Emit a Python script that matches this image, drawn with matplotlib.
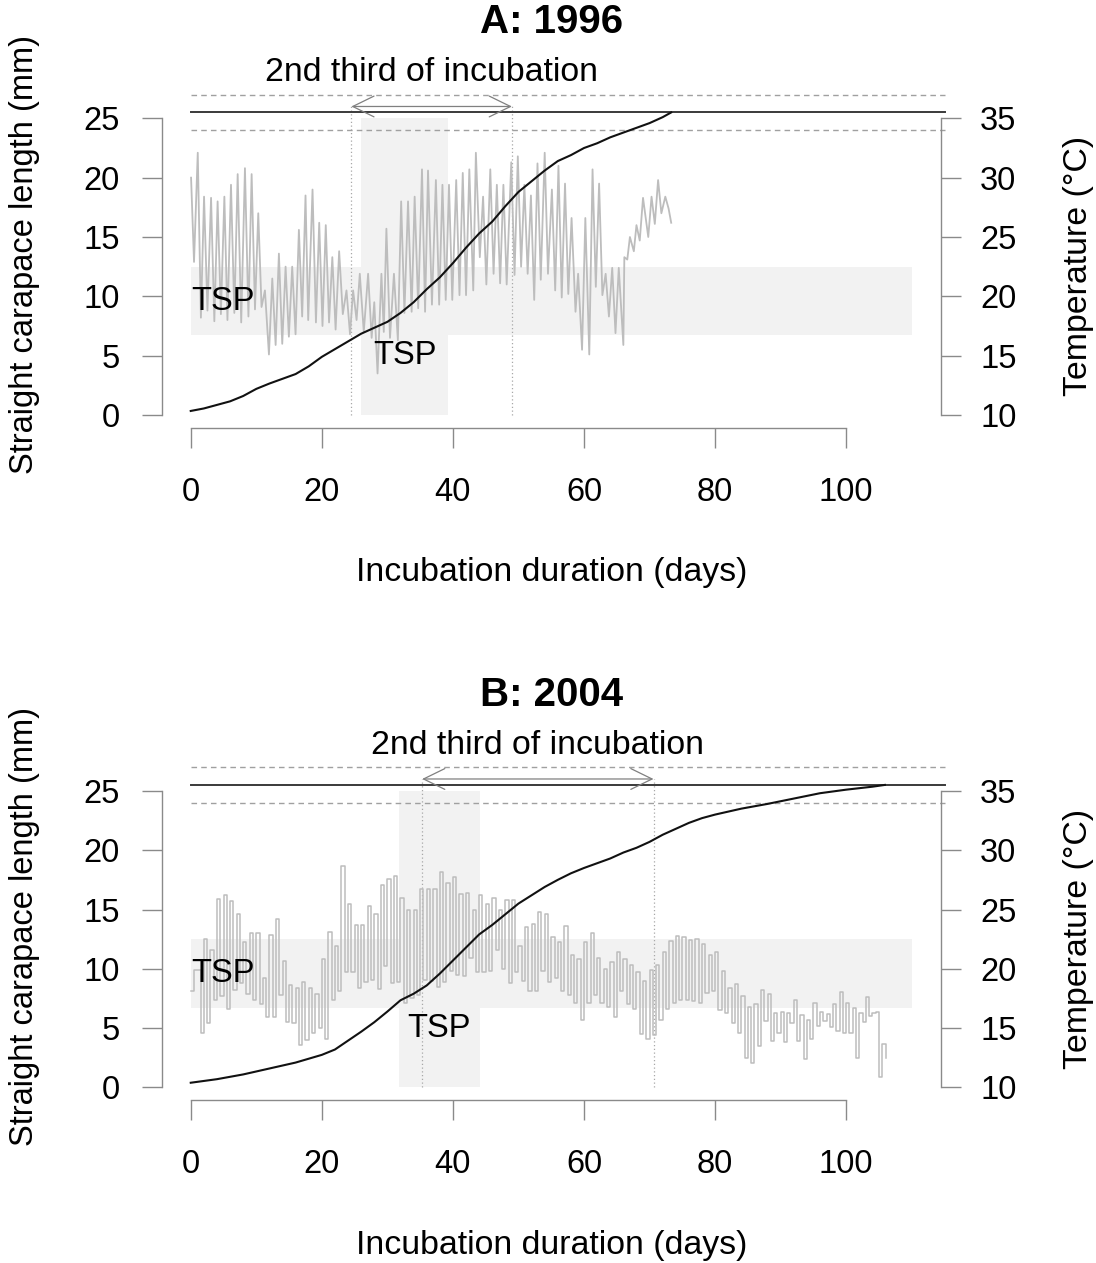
import numpy as np
import matplotlib
matplotlib.use("Agg")
import matplotlib.pyplot as plt
from matplotlib.patches import Rectangle

plt.rcParams['font.family'] = ['Liberation Sans', 'DejaVu Sans']

# ---------------------------------------------------------------- data
x_ticks = [0, 20, 40, 60, 80, 100]
len_ticks = [0, 5, 10, 15, 20, 25]
temp_ticks = [10, 15, 20, 25, 30, 35]
titles = ["A: 1996", "B: 2004"]

# growth curves (day, straight carapace length in mm)
growth_day_A = [0, 2, 4, 6, 8, 10, 12, 14, 16, 18, 20, 22, 24, 26, 28, 30, 32, 34,
                36, 38, 40, 42, 44, 46, 48, 50, 52, 54, 56, 58, 60, 62, 64, 66, 68,
                70, 72, 73.3]
growth_mm_A = [0.34, 0.55, 0.85, 1.15, 1.6, 2.2, 2.65, 3.05, 3.45, 4.1, 4.9, 5.55,
               6.2, 6.85, 7.35, 7.85, 8.6, 9.5, 10.6, 11.6, 12.8, 14.1, 15.3, 16.3,
               17.6, 18.8, 19.7, 20.6, 21.4, 21.9, 22.5, 22.9, 23.4, 23.8, 24.2,
               24.6, 25.1, 25.5]

growth_day_B = [0, 4, 8, 12, 16, 20, 22, 24, 26, 28, 30, 32, 34, 36, 38, 40, 42, 44,
                46, 48, 50, 52, 54, 56, 58, 60, 62, 64, 66, 68, 70, 72, 74, 76, 78,
                80, 84, 88, 92, 96, 100, 104, 105.9]
growth_mm_B = [0.4, 0.7, 1.1, 1.6, 2.1, 2.75, 3.2, 3.95, 4.7, 5.5, 6.4, 7.35, 7.9,
               8.6, 9.6, 10.7, 11.8, 12.9, 13.7, 14.6, 15.5, 16.2, 16.9, 17.5, 18.05,
               18.5, 18.9, 19.3, 19.8, 20.2, 20.7, 21.3, 21.8, 22.3, 22.7, 23.0, 23.5,
               23.9, 24.35, 24.8, 25.1, 25.35, 25.5]

# 1996 nest temperature (daily highs and lows, degC)
temp_day_A = [0.05, 0.5, 1.07, 1.55, 2.03, 2.55, 3.1, 3.6, 4.1, 4.6,
              5.13, 5.6, 6.14, 6.65, 7.16, 7.7, 8.27, 8.8, 9.29, 9.8,
              10.3, 10.8, 11.32, 11.93, 12.44, 12.95, 13.45, 13.96, 14.47, 14.97,
              15.48, 15.99, 16.5, 17.0, 17.51, 17.92, 18.58, 19.1, 19.6, 20.1,
              20.6, 21.1, 21.6, 22.1, 22.64, 23.2, 23.76, 24.3, 24.77, 25.3,
              25.79, 26.4, 27.06, 27.6, 28.0, 28.5, 29.09, 29.45, 29.85, 30.4,
              31.0, 31.6, 32.1, 32.6, 33.15, 33.7, 34.16, 34.7, 35.28, 35.75,
              36.2, 36.8, 37.4, 37.9, 38.4, 38.9, 39.4, 39.9, 40.5, 41.0,
              41.5, 42.0, 42.5, 43.1, 43.5, 44.1, 44.6, 45.1, 45.7, 46.2,
              46.7, 47.2, 47.7, 48.2, 48.9, 49.4, 49.9, 50.4, 50.9, 51.4,
              51.9, 52.4, 52.9, 53.4, 54.0, 54.5, 55.1, 55.6, 56.1, 56.6,
              57.1, 57.6, 58.1, 58.7, 59.1, 59.7, 60.2, 60.8, 61.3, 61.8,
              62.3, 62.8, 63.3, 63.8, 64.3, 64.8, 65.3, 66.0, 66.15, 66.6,
              67.0, 67.6, 68.0, 68.5, 69.0, 69.8, 70.3, 70.8, 71.3, 71.8,
              72.4, 72.9, 73.3]
temp_A = [30.0, 22.9, 32.1, 18.2, 28.4, 18.8, 28.3, 17.9, 28.0, 18.5,
          28.4, 18.0, 29.4, 18.6, 30.3, 17.8, 30.8, 18.3, 30.3, 18.9,
          27.0, 19.1, 20.5, 15.1, 21.5, 15.9, 23.6, 16.0, 22.5, 16.6,
          22.5, 16.8, 25.6, 18.3, 28.5, 18.0, 29.0, 17.8, 26.2, 17.5,
          26.0, 17.8, 23.3, 17.2, 23.8, 18.5, 20.5, 16.8, 20.5, 18.0,
          21.9, 17.0, 21.9, 16.5, 19.5, 13.5, 21.9, 17.0, 25.7, 16.5,
          21.9, 16.3, 28.0, 18.6, 28.0, 18.7, 28.4, 19.0, 30.7, 18.7,
          30.6, 19.3, 29.8, 19.3, 29.4, 19.7, 29.4, 19.7, 29.8, 20.1,
          30.4, 20.1, 30.7, 20.5, 32.1, 23.3, 28.4, 21.0, 30.7, 21.9,
          29.4, 21.1, 29.4, 21.0, 31.3, 21.8, 31.8, 22.5, 29.4, 21.9,
          28.5, 19.7, 31.2, 21.4, 32.1, 21.9, 29.0, 20.5, 31.0, 19.9,
          29.5, 20.2, 26.6, 18.7, 21.9, 15.5, 26.6, 15.1, 30.7, 20.8,
          29.5, 20.1, 21.9, 18.3, 22.4, 16.9, 22.4, 15.9, 23.3, 23.1,
          25.0, 23.8, 26.0, 24.7, 28.3, 25.0, 28.4, 26.1, 29.8, 27.0,
          28.4, 27.4, 26.2]

# 2004 nest temperature, one reading every half day (degC)
temp_step_B = 0.5
temp_B = [18.1, 19.9, 19.9, 14.6, 22.5, 15.4, 21.6, 17.4, 25.9, 17.7,
          26.2, 16.6, 25.7, 18.2, 24.6, 18.8, 22.3, 17.9, 23.0, 17.4,
          23.0, 17.0, 19.2, 15.9, 22.85, 15.9, 24.2, 17.8, 20.7, 15.55,
          18.6, 15.4, 18.4, 13.6, 18.9, 14.0, 18.4, 14.6, 17.9, 15.0,
          20.8, 14.1, 23.1, 17.4, 21.9, 18.1, 28.7, 19.7, 25.5, 19.7,
          23.7, 18.4, 23.7, 18.9, 25.3, 19.1, 24.6, 18.3, 27.1, 20.2,
          27.6, 18.8, 27.85, 18.9, 26.0, 17.1, 25.0, 17.5, 25.0, 17.8,
          26.7, 19.1, 26.7, 19.0, 26.7, 18.5, 28.2, 18.9, 27.2, 19.8,
          27.7, 19.5, 26.3, 19.4, 26.4, 20.9, 25.0, 19.7, 26.2, 19.7,
          25.5, 19.8, 26.0, 21.6, 25.0, 20.0, 25.8, 18.8, 25.8, 19.7,
          21.9, 19.0, 23.55, 18.1, 23.8, 18.1, 24.8, 19.8, 24.6, 18.9,
          22.7, 19.2, 22.3, 18.1, 23.6, 17.8, 21.2, 17.1, 20.8, 15.7,
          22.3, 17.1, 23.0, 17.8, 20.9, 17.1, 20.0, 16.8, 20.6, 15.9,
          21.4, 18.1, 20.8, 17.0, 20.3, 16.6, 19.7, 14.5, 19.0, 14.1,
          19.9, 14.4, 20.3, 15.7, 21.45, 16.6, 22.35, 17.1, 22.8, 17.4,
          22.65, 17.4, 22.4, 17.3, 22.5, 17.1, 22.1, 18.0, 21.2, 18.1,
          21.4, 16.5, 19.8, 16.3, 18.4, 15.4, 18.7, 14.6, 17.7, 12.5,
          16.75, 12.1, 17.0, 13.5, 18.2, 15.6, 17.9, 13.9, 16.25, 14.6,
          16.4, 13.8, 16.3, 15.4, 17.4, 13.9, 16.1, 12.4, 15.7, 14.1,
          17.1, 15.2, 16.4, 15.6, 16.2, 15.1, 17.0, 14.8, 18.05, 14.6,
          17.1, 14.6, 16.7, 12.5, 16.3, 15.5, 17.6, 16.0, 16.25, 16.4,
          10.9, 13.7, 12.5]

hatch_size = 25.5            # mm
hatch_size_range = [24.0, 27.0]
tsp_size = [6.7, 12.5]       # mm
tsp_days_A = [26.0, 39.3]
tsp_days_B = [31.7, 44.1]
incubation_A = 73.5
incubation_B = 105.9

# ---------------------------------------------------------------- figure
W, H = 1096, 1263
fig = plt.figure(figsize=(W / 100, H / 100), dpi=100)

GREY_AX = '#8a8a8a'
BAND = '#f2f2f2'
FS = 23.5
FS_LAB = 24.4


def panel(off, title, gd, gm, td, tv, steps, tsp_days, incub):
    left, right = 161.9, 940.6
    top, bottom = 81.8 + off, 427.8 + off
    ax = fig.add_axes([left / W, 1 - bottom / H, (right - left) / W, (bottom - top) / H])
    ax.set_xlim(-4.4, 114.4)
    ax.set_ylim(-1.08, 28.08)
    axT = ax.twinx()
    axT.set_ylim(8.92, 38.08)

    for s in ['top', 'right']:
        ax.spines[s].set_visible(False)
    for s in ['top', 'left', 'bottom']:
        axT.spines[s].set_visible(False)
    ax.spines['left'].set_bounds(0, 25)
    ax.spines['bottom'].set_bounds(0, 100)
    axT.spines['right'].set_bounds(10, 35)
    for sp in [ax.spines['left'], ax.spines['bottom'], axT.spines['right']]:
        sp.set_color(GREY_AX)
        sp.set_linewidth(1.0)

    ax.set_xticks(x_ticks)
    ax.set_yticks(len_ticks)
    axT.set_yticks(temp_ticks)
    ax.tick_params(axis='both', direction='out', length=14.4, width=1.0,
                   color=GREY_AX, labelsize=FS, labelcolor='black')
    ax.tick_params(axis='x', pad=21)
    ax.tick_params(axis='y', pad=16)
    axT.tick_params(axis='y', direction='out', length=14.4, width=1.0,
                    color=GREY_AX, labelsize=FS, labelcolor='black', pad=14)

    # TSP bands
    ax.add_patch(Rectangle((0, tsp_size[0]), 110, tsp_size[1] - tsp_size[0],
                           facecolor=BAND, edgecolor='none', zorder=0))
    ax.add_patch(Rectangle((tsp_days[0], 0), tsp_days[1] - tsp_days[0], 25,
                           facecolor=BAND, edgecolor='none', zorder=0))

    # hatchling size lines
    ax.plot([0, 115], [hatch_size, hatch_size], color='#3a3a3a', lw=1.4,
            clip_on=False, zorder=2)
    for yv in hatch_size_range:
        ax.plot([0, 115], [yv, yv], color='#a0a0a0', lw=1.0, ls=(0, (4, 3)),
                clip_on=False, zorder=2)

    # second third of incubation
    t1, t2 = incub / 3, 2 * incub / 3
    ax.vlines([t1, t2], 0, 26, colors='#a8a8a8', linestyles=(0, (1, 2)), lw=0.9, zorder=1)
    ax.annotate('', xy=(t2, 26), xytext=(t1, 26), annotation_clip=False,
                arrowprops=dict(arrowstyle='<->,head_length=0.45,head_width=0.22',
                                color='#808080', lw=0.9, shrinkA=0, shrinkB=0,
                                mutation_scale=34))
    ax.text((t1 + t2) / 2, 28.85, '2nd third of incubation', ha='center', va='center',
            fontsize=FS_LAB, clip_on=False)

    # temperature
    if steps:
        axT.plot(td, tv, color='#bdbdbd', lw=1.1, drawstyle='steps-post', zorder=3)
    else:
        axT.plot(td, tv, color='#bdbdbd', lw=1.3, zorder=3)

    # growth
    axT.plot(gd, gm, transform=ax.transData, color='#111111', lw=1.5, zorder=5)

    axT.text(0.1, sum(tsp_size) / 2, 'TSP', transform=ax.transData, ha='left',
             va='center', fontsize=FS, zorder=6)
    axT.text(sum(tsp_days) / 2, 5.0, 'TSP', transform=ax.transData, ha='center',
             va='center', fontsize=FS, zorder=6)

    cx = (left + right) / 2 / W
    fig.text(cx, 1 - (22 + off) / H, title, ha='center', va='center',
             fontsize=29, fontweight='bold')
    fig.text(cx, 1 - (573 + off) / H, 'Incubation duration (days)', ha='center',
             va='center', fontsize=FS_LAB)
    fig.text(25 / W, 1 - (254 + off) / H, 'Straight carapace length (mm)', rotation=90,
             ha='center', va='center', fontsize=FS)
    fig.text(1079 / W, 1 - (266 + off) / H, 'Temperature (\u00b0C)', rotation=90,
             ha='center', va='center', fontsize=FS_LAB)


panel(0, titles[0], growth_day_A, growth_mm_A, temp_day_A, temp_A, False,
      tsp_days_A, incubation_A)
day_B = np.arange(len(temp_B)) * temp_step_B
panel(672.5, titles[1], growth_day_B, growth_mm_B, day_B, temp_B, True,
      tsp_days_B, incubation_B)

fig.savefig('out.png', dpi=100, facecolor='white')
